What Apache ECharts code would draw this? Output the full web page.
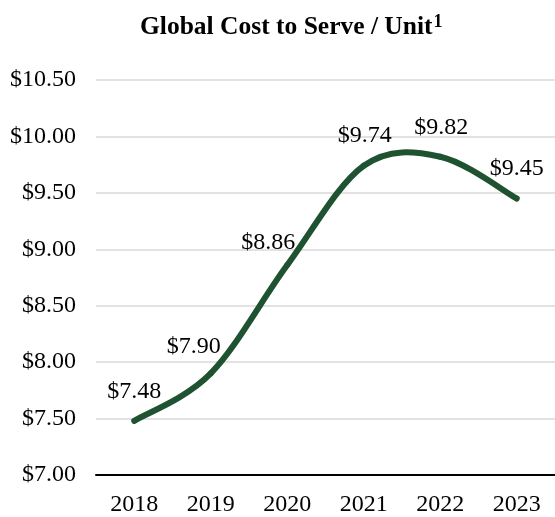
<!DOCTYPE html>
<html>
<head>
<meta charset="utf-8">
<script src="https://cdn.jsdelivr.net/npm/echarts@6/dist/echarts.min.js"></script>
<style>
html,body{margin:0;padding:0;background:#fff;}
#chart{width:555px;height:517px;}
</style>
</head>
<body>
<div id="chart"></div>
<script>
const categories = ['2018', '2019', '2020', '2021', '2022', '2023'];
const costPerUnit = [7.48, 7.90, 8.86, 9.74, 9.82, 9.45];
const yMin = 7.0;
const yMax = 10.5;
const yStep = 0.5;
// label nudges (style only), [dx, dy] in px
const labelOffsets = [[0, 0], [-17, 2], [-19, 7], [1, -1], [1, 0], [0, -1]];

const chart = echarts.init(document.getElementById('chart'));
const serif = '"Liberation Serif", "Times New Roman", serif';
const lineColor = '#1f5230';

// Smooth curve segment (Excel-like Catmull-Rom) between point i and i+1, positioned via the axes
function renderSegment(params, api) {
  const i = params.dataIndex;
  const n = costPerUnit.length;
  if (i >= n - 1) return null;
  const P = k => {
    const j = Math.max(0, Math.min(n - 1, k));
    return api.coord([j, costPerUnit[j]]);
  };
  const p0 = P(i - 1), p1 = P(i), p2 = P(i + 1), p3 = P(i + 2);
  const t = 1 / 6;
  return {
    type: 'bezierCurve',
    shape: {
      x1: p1[0], y1: p1[1],
      cpx1: p1[0] + (p2[0] - p0[0]) * t, cpy1: p1[1] + (p2[1] - p0[1]) * t,
      cpx2: p2[0] - (p3[0] - p1[0]) * t, cpy2: p2[1] - (p3[1] - p1[1]) * t,
      x2: p2[0], y2: p2[1]
    },
    style: { stroke: lineColor, lineWidth: 6, fill: null, lineCap: 'round' },
    silent: true
  };
}

chart.setOption({
  animation: false,
  backgroundColor: '#ffffff',
  title: {
    text: '{a|Global Cost to Serve / Unit}{s|1}',
    left: 135,
    top: 8,
    textStyle: {
      rich: {
        a: { fontFamily: serif, fontWeight: 'bold', fontSize: 25.5, color: '#000', lineHeight: 29 },
        s: { fontFamily: serif, fontWeight: 'bold', fontSize: 18, color: '#000', verticalAlign: 'top', lineHeight: 29, padding: [0, 0, 0, 1] }
      }
    }
  },
  grid: { left: 96, right: -9, top: 80, bottom: 40, containLabel: false },
  xAxis: {
    type: 'category',
    data: categories,
    boundaryGap: true,
    axisLine: { show: true, lineStyle: { color: '#000', width: 2 } },
    axisTick: { show: false },
    axisLabel: { fontFamily: serif, fontSize: 24, color: '#000', margin: 18 },
    splitLine: { show: false }
  },
  yAxis: {
    type: 'value',
    min: yMin,
    max: yMax,
    interval: yStep,
    axisLine: { show: false },
    axisTick: { show: false },
    axisLabel: {
      fontFamily: serif, fontSize: 24, color: '#000', margin: 20,
      formatter: v => '$' + v.toFixed(2)
    },
    splitLine: { show: true, lineStyle: { color: '#d9d9d9', width: 1.5 } }
  },
  series: [
    {
      type: 'custom',
      data: costPerUnit.map((v, i) => [i, v]),
      renderItem: renderSegment,
      z: 3
    },
    {
      type: 'line',
      data: costPerUnit,
      showSymbol: true,
      symbol: 'circle',
      symbolSize: 0.1,
      itemStyle: { color: lineColor, opacity: 0 },
      lineStyle: { opacity: 0 },
      z: 4,
      labelLayout: p => ({ dx: labelOffsets[p.dataIndex][0], dy: labelOffsets[p.dataIndex][1], hideOverlap: false }),
      label: {
        show: true,
        position: 'top',
        distance: 17,
        fontFamily: serif,
        fontSize: 24,
        color: '#000',
        opacity: 1,
        formatter: p => '$' + p.value.toFixed(2)
      }
    }
  ]
});
</script>
</body>
</html>
